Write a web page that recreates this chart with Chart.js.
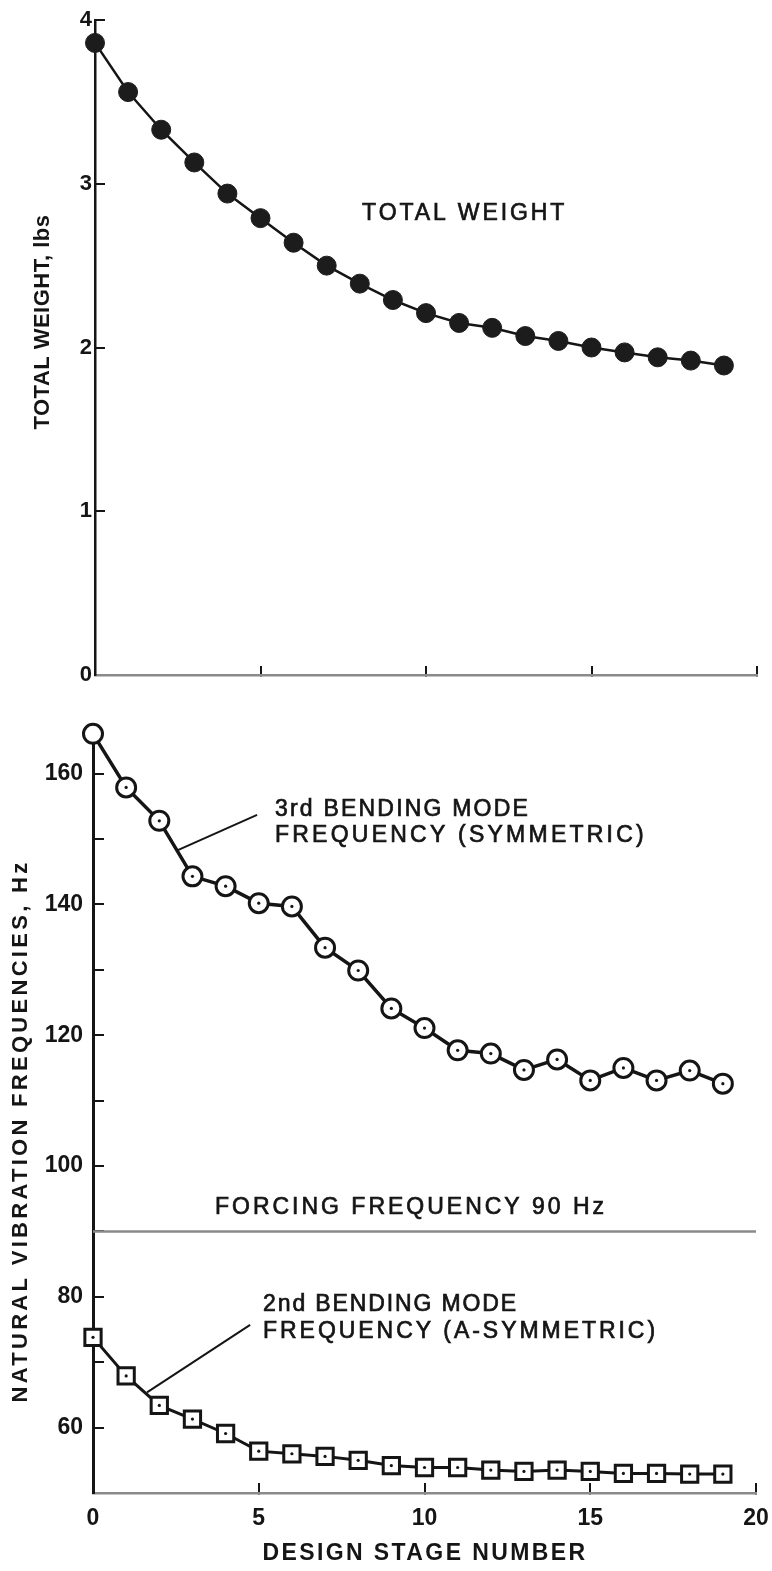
<!DOCTYPE html>
<html>
<head>
<meta charset="utf-8">
<title>Design stage history</title>
<script src="https://cdn.jsdelivr.net/npm/chart.js@4.4.1/dist/chart.umd.min.js"></script>
<style>
	html, body { margin:0; padding:0; background:#fff; }
	#wrapper-app { position:relative; width:772px; height:1571px; overflow:hidden; }
	canvas { display:block; }
</style>
</head>
<body>
<div id="wrapper-app">
	<canvas id="chart-weight" width="772" height="700"></canvas>
	<canvas id="chart-freq" width="772" height="871"></canvas>
</div>
<script>
// values
var stages = [0, 1, 2, 3, 4, 5, 6, 7, 8, 9, 10, 11, 12, 13, 14, 15, 16, 17, 18, 19];
var totalWeight = [3.86, 3.56, 3.33, 3.13, 2.94, 2.79, 2.64, 2.50, 2.39, 2.29, 2.21, 2.15, 2.12, 2.07, 2.04, 2.00, 1.97, 1.94, 1.92, 1.89];
var thirdMode = [166.1, 157.9, 152.8, 144.3, 142.8, 140.2, 139.7, 133.4, 129.9, 124.1, 121.1, 117.7, 117.2, 114.7, 116.3, 113.1, 115.0, 113.1, 114.6, 112.6];
var secondMode = [73.8, 67.9, 63.4, 61.3, 59.1, 56.4, 56.0, 55.6, 55.0, 54.2, 53.9, 53.9, 53.5, 53.3, 53.5, 53.3, 53.0, 53.0, 52.9, 52.9];
var forcingFreq = 90;
var stageRange = [0, 20];
var stageTicks = [0, 5, 10, 15, 20];
var weightTicks = [0, 1, 2, 3, 4];
var freqTicks = [60, 70, 80, 90, 100, 110, 120, 130, 140, 150, 160];
var freqLabels = [60, 80, 100, 120, 140, 160];

var app = (function(){
	var
		ink = '#151515'
		,axisGrey = '#8a8a8a'
		,family = '"Liberation Sans", Arial, Helvetica, sans-serif'
		,charts = [undefined, undefined];

	// free lettering + leader lines; kept out of chart options so the resolver leaves them alone
	function _paperText(lines, texts){
		return {
			id: 'paperText',
			afterDatasetsDraw: function(chart){
				var ctx = chart.ctx, sx = chart.scales.x, sy = chart.scales.y;
				lines.forEach(function(l){
					ctx.save();
					ctx.strokeStyle = ink;
					ctx.lineWidth = 2;
					ctx.beginPath();
					ctx.moveTo(sx.getPixelForValue(l.from[0]), sy.getPixelForValue(l.from[1]));
					ctx.lineTo(sx.getPixelForValue(l.to[0]), sy.getPixelForValue(l.to[1]));
					ctx.stroke();
					ctx.restore();
				});
			},
			afterDraw: function(chart){
				var ctx = chart.ctx, sx = chart.scales.x, sy = chart.scales.y;
				texts.forEach(function(t){
					var x = t.mode === 'data' ? sx.getPixelForValue(t.pos[0]) : t.pos[0];
					var y = t.mode === 'data' ? sy.getPixelForValue(t.pos[1]) : t.pos[1];
					ctx.save();
					ctx.font = (t.bold ? 'bold ' : '') + t.size + 'px ' + family;
					ctx.letterSpacing = '0px';
					var w0 = ctx.measureText(t.text).width;
					ctx.letterSpacing = ((t.width - w0) / t.text.length).toFixed(2) + 'px';
					ctx.translate(x, y);
					if(t.rotate){ ctx.rotate(-Math.PI / 2); }
					ctx.textAlign = t.align || 'left';
					ctx.textBaseline = 'middle';
					ctx.fillStyle = ink;
					ctx.fillText(t.text, 0, 0);
					if(!t.bold){
						// scanned lettering is a little heavier than a regular face
						ctx.strokeStyle = ink;
						ctx.lineWidth = 0.7;
						ctx.strokeText(t.text, 0, 0);
					}
					ctx.restore();
				});
			}
		};
	}

	function init(){
		Chart.defaults.font.family = family;
		Chart.defaults.color = ink;
		_createCharts();
	}

	function _xy(values){
		return stages.map(function(s, i){ return {x: s, y: values[i]}; });
	}

	function _setTicks(list){
		return function(axis){
			axis.ticks = list.map(function(v){ return {value: v}; });
		};
	}

	function _hideAt(value){
		return function(c){ return c.tick && c.tick.value === value ? 'rgba(0,0,0,0)' : ink; };
	}

	function _fixSize(prop, size){
		return function(s){
			s[prop] = size;
			s.paddingTop = 0; s.paddingBottom = 0; s.paddingLeft = 0; s.paddingRight = 0;
		};
	}

	function _createCharts(){
		_createWeightChart();
		_createFreqChart();
	}

	function _createWeightChart(){
		var index = 0;
		if(charts[index] !== undefined){
			charts[index].destroy();
		}
		var ctx = document.getElementById('chart-weight');
		charts[index] = new Chart(ctx, {
			type: 'line',
			data: {
				datasets: [{
					data: _xy(totalWeight),
					borderColor: ink,
					borderWidth: 2.5,
					pointRadius: 9.5,
					pointBackgroundColor: '#1c1c1c',
					pointBorderColor: '#1c1c1c',
					pointBorderWidth: 1,
					tension: 0,
					clip: false
				}]
			},
			options: {
				responsive: false,
				animation: false,
				layout: { padding: {left: 0, right: 15, top: 20, bottom: 0} },
				plugins: {
					legend: { display: false },
					tooltip: { enabled: false }
				},
				scales: {
					x: {
						type: 'linear',
						min: stageRange[0],
						max: stageRange[1],
						afterBuildTicks: _setTicks(stageTicks),
						afterFit: _fixSize('height', 25),
						border: { color: axisGrey, width: 2.5 },
						grid: { drawOnChartArea: false, tickLength: -9, lineWidth: 2, color: _hideAt(0) },
						ticks: { display: false }
					},
					y: {
						min: weightTicks[0],
						max: weightTicks[weightTicks.length - 1],
						afterBuildTicks: _setTicks(weightTicks),
						afterFit: _fixSize('width', 95),
						border: { color: ink, width: 2.5 },
						grid: { drawOnChartArea: false, tickLength: -10, lineWidth: 2, color: _hideAt(0) },
						ticks: { padding: 13, autoSkip: false, color: ink, font: {size: 22, weight: 'bold'} }
					}
				}
			},
			plugins: [_paperText([], [
				{text: 'TOTAL WEIGHT', mode: 'data', pos: [8.07, 2.82], size: 23, width: 205},
				{text: 'TOTAL WEIGHT, lbs', mode: 'px', pos: [43, 322], size: 22, bold: true, width: 215, rotate: true, align: 'center'}
			])]
		});
	}

	function _createFreqChart(){
		var index = 1;
		if(charts[index] !== undefined){
			charts[index].destroy();
		}
		var ctx = document.getElementById('chart-freq');
		charts[index] = new Chart(ctx, {
			type: 'line',
			data: {
				datasets: [{
					// centre dots of the open markers
					data: _xy(thirdMode),
					showLine: false,
					pointRadius: 1.6,
					pointBackgroundColor: ink,
					pointBorderWidth: 0,
					order: 0,
					clip: false
				},{
					data: _xy(secondMode),
					showLine: false,
					pointRadius: 1.6,
					pointBackgroundColor: ink,
					pointBorderWidth: 0,
					order: 0,
					clip: false
				},{
					label: '3rd bending mode (symmetric)',
					data: _xy(thirdMode),
					borderColor: ink,
					borderWidth: 3.5,
					pointStyle: 'circle',
					pointRadius: 9.5,
					pointBackgroundColor: '#fff',
					pointBorderColor: ink,
					pointBorderWidth: 3,
					tension: 0,
					order: 1,
					clip: false
				},{
					label: '2nd bending mode (a-symmetric)',
					data: _xy(secondMode),
					borderColor: ink,
					borderWidth: 3,
					pointStyle: 'rect',
					pointRadius: 11.5,
					pointBackgroundColor: '#fff',
					pointBorderColor: ink,
					pointBorderWidth: 3,
					tension: 0,
					order: 1,
					clip: false
				},{
					label: 'Forcing frequency',
					data: stageRange.map(function(s){ return {x: s, y: forcingFreq}; }),
					borderColor: axisGrey,
					borderWidth: 2.5,
					pointRadius: 0,
					order: 2
				}]
			},
			options: {
				responsive: false,
				animation: false,
				layout: { padding: {left: 0, right: 16, top: 41, bottom: 0} },
				plugins: {
					legend: { display: false },
					tooltip: { enabled: false }
				},
				scales: {
					x: {
						type: 'linear',
						min: stageRange[0],
						max: stageRange[1],
						afterBuildTicks: _setTicks(stageTicks),
						afterFit: _fixSize('height', 78),
						border: { color: axisGrey, width: 2.5 },
						grid: { drawOnChartArea: false, tickLength: -10, lineWidth: 2, color: _hideAt(0) },
						ticks: { padding: 22, autoSkip: false, maxRotation: 0, color: ink, font: {size: 23, weight: 'bold'} }
					},
					y: {
						min: 50,
						max: 165,
						afterBuildTicks: _setTicks(freqTicks),
						afterFit: _fixSize('width', 93),
						border: { color: ink, width: 3 },
						grid: { drawOnChartArea: false, tickLength: -11, lineWidth: 2, color: ink },
						ticks: {
							padding: 21,
							autoSkip: false,
							color: ink,
							font: {size: 23, weight: 'bold'},
							callback: function(v){ return freqLabels.indexOf(v) >= 0 ? String(v) : ''; }
						}
					}
				}
			},
			plugins: [_paperText([
				{from: [4.95, 153.7], to: [2.56, 148.3]},
				{from: [4.74, 75.7], to: [1.63, 65.4]}
			], [
				{text: '3rd BENDING MODE', mode: 'data', pos: [5.49, 154.45], size: 23, width: 255},
				{text: 'FREQUENCY (SYMMETRIC)', mode: 'data', pos: [5.49, 150.6], size: 23, width: 372},
				{text: 'FORCING FREQUENCY 90 Hz', mode: 'data', pos: [3.68, 93.6], size: 23, width: 392},
				{text: '2nd BENDING MODE', mode: 'data', pos: [5.13, 78.75], size: 23, width: 255},
				{text: 'FREQUENCY (A-SYMMETRIC)', mode: 'data', pos: [5.13, 74.6], size: 23, width: 395},
				{text: 'NATURAL VIBRATION FREQUENCIES, Hz', mode: 'px', pos: [21, 431], size: 22, bold: true, width: 543, rotate: true, align: 'center'},
				{text: 'DESIGN STAGE NUMBER', mode: 'px', pos: [425, 854], size: 23, bold: true, width: 325, align: 'center'}
			])]
		});
	}

	return {
		init: init
	};
})();

app.init();
</script>
</body>
</html>
